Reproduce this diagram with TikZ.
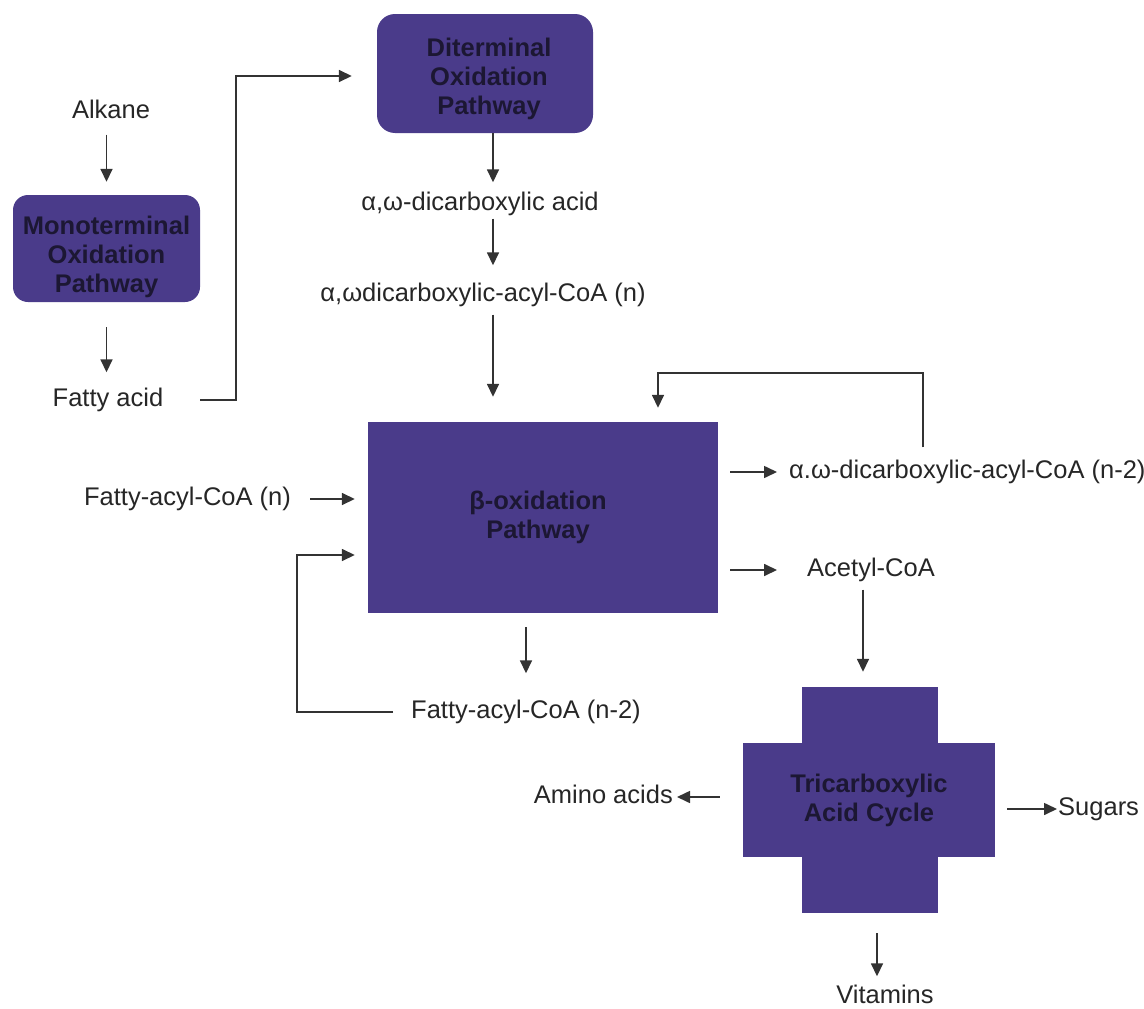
\documentclass[tikz,border=0pt]{standalone}
\usepackage{fontspec}
\setmainfont{Liberation Sans}
\usetikzlibrary{arrows.meta,calc}
\definecolor{PathClr}{rgb}{0.29,0.23,0.54}
\definecolor{PathTxt}{rgb}{0.11,0.09,0.2}
\definecolor{LineClr}{rgb}{0.2,0.2,0.2}

\begin{document}
\begin{tikzpicture}[x=1pt,y=-1pt,
  txt/.style={inner sep=0pt,text height=18pt,text depth=5pt,text=black!85,
    font=\fontsize{25.5}{29}\selectfont},
  pathbox/.style={fill=PathClr,text=PathTxt,align=center,inner sep=0pt,
    font=\fontsize{25.5}{29}\selectfont\bfseries},
  pathtxt/.style={text=PathTxt,align=center,inner sep=0pt,
    font=\fontsize{25.5}{29}\selectfont\bfseries},
  flow/.style={draw=LineClr,line width=1.6pt,-{Triangle[length=13pt,width=12pt]}}]
\useasboundingbox (0,0) rectangle (1144,1009);

% Entry: alkane and the two oxidation routes
\node[txt] (alkane) at (111,112) {Alkane};
\node[pathbox,rounded corners=15pt,minimum width=187pt,minimum height=107pt]
  (mono) at (106.5,248.5) {};
\node[pathtxt] (monotxt) at ($(mono)+(0,8)$) {Monoterminal\\Oxidation\\Pathway};
\node[txt] (fatty) at (108,400) {Fatty acid};
\node[pathbox,rounded corners=18pt,minimum width=216pt,minimum height=119pt]
  (dit) at (485,73.5) {};
\node[pathtxt] (dittxt) at ($(dit)+(4,5)$) {Diterminal\\Oxidation\\Pathway};
\node[txt] (dca) at (480,204) {α,ω-dicarboxylic acid};
\node[txt] (dcacoa) at (483,295) {α,ωdicarboxylic-acyl-CoA (n)};

% Beta-oxidation and its products
\node[pathbox,minimum width=350pt,minimum height=191pt]
  (beta) at (543,517.5) {};
\node[pathtxt] (betatxt) at ($(beta)+(-5,0)$) {β-oxidation\\Pathway};
\node[txt] (facoan) at (187.5,499) {Fatty-acyl-CoA (n)};
\node[txt] (facoa2) at (526,712) {Fatty-acyl-CoA (n-2)};
\node[txt,anchor=west] (dcacoa2) at (789,472) {α.ω-dicarboxylic-acyl-CoA (n-2)};
\node[txt] (acetyl) at (871,570) {Acetyl-CoA};

% TCA cross
\node[pathbox,minimum width=136pt,minimum height=226pt] (tcaV) at (870,800) {};
\node[pathbox,minimum width=252pt,minimum height=114pt]
  (tcaH) at (869,800) {Tricarboxylic\\Acid Cycle};
\node[txt,anchor=east] (amino) at (673,797) {Amino acids};
\node[txt,anchor=west] (sugars) at (1058,809) {Sugars};
\node[txt] (vitamins) at (885,997) {Vitamins};

% Bends of the elbow connectors
\coordinate (upA) at (236,76);
\coordinate (upB) at (297,555);
\coordinate (backR) at (923,373);
\coordinate (backL) at (658,373);
\coordinate (col) at (493,0);
\coordinate (colT) at (863,0);
\coordinate (colV) at (877,0);

\draw[flow,shorten <=11pt,shorten >=13pt] (alkane.south -| mono.north) -- (mono.north);
\draw[flow,shorten <=25pt,shorten >=16pt] (mono.south) -- (mono.south |- fatty.north);
\draw[flow,shorten <=37pt,shorten >=25pt] (fatty.east) -| (upA) -- (upA -| dit.west);

\draw[flow,shorten >=10pt] (dit.south -| col) -- (dca.north -| col);
\draw[flow,shorten <=3pt,shorten >=18pt] (dca.south -| col) -- (dcacoa.north -| col);
\draw[flow,shorten <=8pt,shorten >=25pt] (dcacoa.south -| col) -- (beta.north -| col);

\draw[flow,shorten <=19pt,shorten >=13pt] (facoan.east) -- (facoan.east -| beta.west);
\draw[flow,shorten <=18pt,shorten >=13pt] (facoa2.west) -| (upB) -- (upB -| beta.west);
\draw[flow,shorten <=14pt,shorten >=27pt] (beta.south -| facoa2.north) -- (facoa2.north);

\draw[flow,shorten <=12pt,shorten >=12pt] (beta.east |- dcacoa2.west) -- (dcacoa2.west);
\draw[flow,shorten <=12pt,shorten >=30pt] (beta.east |- acetyl.west) -- (acetyl.west);
\draw[flow,shorten <=13pt,shorten >=14pt] (backR |- dcacoa2.north) -- (backR) -- (backL) -- (backL |- beta.north);

\draw[flow,shorten <=8pt,shorten >=15pt] (acetyl.south -| colT) -- (tcaV.north -| colT);
\draw[flow,shorten <=23pt,shorten >=4pt] (tcaH.west |- amino.east) -- (amino.east);
\draw[flow,shorten <=12pt,shorten >=1pt] (tcaH.east |- sugars.west) -- (sugars.west);
\draw[flow,shorten <=20pt,shorten >=9pt] (tcaV.south -| colV) -- (vitamins.north -| colV);

\end{tikzpicture}
\end{document}
